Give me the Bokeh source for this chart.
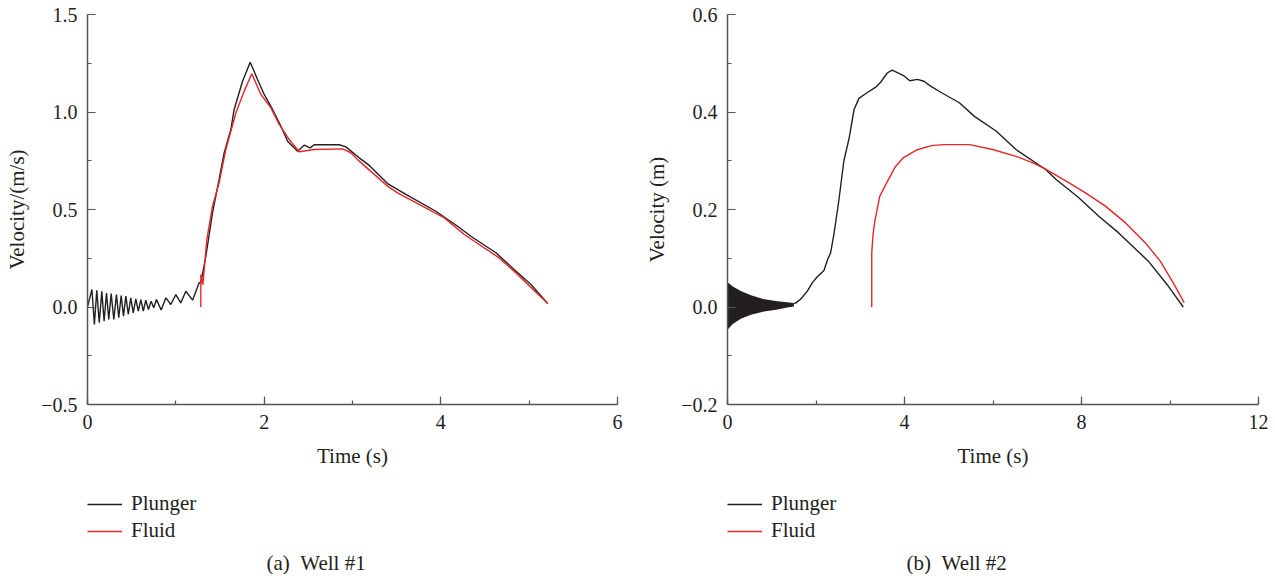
from bokeh.plotting import figure
from bokeh.layouts import row, column
from bokeh.models import (SingleIntervalTicker, CustomJSTickFormatter, Legend,
                          LegendItem, Title, Range1d)
from bokeh.embed import file_html
from bokeh.resources import INLINE

FONT = "Liberation Serif"
BLACK = "#231f20"
RED = "#e5262b"
AXIS = "#555555"
TEXT = "#231f20"
NAN = float("nan")

# ---------------- Well #1 ----------------
w1_plunger_t = [0.0, 0.05, 0.078, 0.105, 0.133, 0.162, 0.188, 0.215, 0.241, 0.268, 0.298,
                0.328, 0.354, 0.381, 0.407, 0.434, 0.462, 0.49, 0.518, 0.547, 0.575,
                0.604, 0.632, 0.66, 0.69, 0.72, 0.75, 0.781, 0.834, 0.887, 0.943, 1.0,
                1.056, 1.113, 1.19, 1.264, 1.283, 1.34, 1.415, 1.49, 1.547, 1.623,
                1.66, 1.755, 1.842, 1.925, 2.0, 2.095, 2.19, 2.265, 2.378, 2.453, 2.52,
                2.566, 2.85, 2.925, 3.076, 3.19, 3.397, 3.624, 3.944, 4.19, 4.34, 4.624,
                4.83, 5.02, 5.21]
w1_plunger_v = [0.0, 0.09, -0.09, 0.086, -0.081, 0.081, -0.073, 0.072, -0.064, 0.069, -0.064,
                0.064, -0.055, 0.059, -0.047, 0.056, -0.038, 0.047, -0.03, 0.042, -0.021,
                0.038, -0.021, 0.035, -0.013, 0.03, -0.004, 0.038, -0.015, 0.047, 0.013, 0.064,
                0.021, 0.081, 0.035, 0.124, 0.124, 0.26, 0.483, 0.654, 0.79, 0.91,
                1.013, 1.158, 1.255, 1.167, 1.09, 1.013, 0.927, 0.85, 0.799, 0.83, 0.816,
                0.832, 0.832, 0.821, 0.765, 0.726, 0.633, 0.572, 0.491, 0.414, 0.363, 0.278,
                0.192, 0.115, 0.018]

w1_fluid_t = [1.283, 1.283, 1.306, 1.351, 1.415, 1.49, 1.566, 1.68, 1.774, 1.86, 1.963,
              2.076, 2.17, 2.283, 2.397, 2.566, 2.888, 2.982, 3.076, 3.397, 3.51, 4.04,
              4.265, 4.66, 4.85, 5.21]
w1_fluid_v = [0.0, 0.167, 0.115, 0.346, 0.517, 0.637, 0.808, 0.996, 1.107, 1.196, 1.09,
              1.021, 0.936, 0.859, 0.796, 0.808, 0.811, 0.791, 0.748, 0.62, 0.585, 0.457,
              0.372, 0.252, 0.175, 0.018]

# ---------------- Well #2 ----------------
w2_osc_t = [0.0, 0.015, 0.12, 0.30, 0.53, 0.83, 1.13, 1.35, 1.50]
w2_osc_upper = [0.05, 0.05, 0.042, 0.033, 0.024, 0.016, 0.012, 0.010, 0.008]
w2_osc_lower = [-0.045, -0.045, -0.035, -0.024, -0.016, -0.009, -0.005, -0.001, 0.001]

w2_plunger_t = [1.50, 1.54, 1.65, 1.80, 1.92, 2.03, 2.18, 2.26, 2.33, 2.41, 2.52,
                2.63, 2.75, 2.86, 2.97, 3.16, 3.35, 3.46, 3.61, 3.72, 3.84, 3.99,
                4.12, 4.29, 4.44, 4.59, 4.81, 5.24, 5.58, 6.07, 6.52, 7.19, 7.42, 7.94,
                8.39, 8.84, 9.51, 9.96, 10.30]
w2_plunger_v = [0.008, 0.008, 0.016, 0.032, 0.050, 0.062, 0.075, 0.097, 0.111, 0.152,
                0.221, 0.300, 0.347, 0.405, 0.428, 0.440, 0.451, 0.461, 0.480,
                0.486, 0.481, 0.474, 0.464, 0.467, 0.463, 0.453, 0.441, 0.419,
                0.391, 0.361, 0.323, 0.282, 0.262, 0.224, 0.186, 0.152, 0.094, 0.043, 0.0]

w2_fluid_t = [3.26, 3.26, 3.29, 3.33, 3.44, 3.60, 3.78, 3.97, 4.27, 4.61, 4.87, 5.47, 5.99,
              6.52, 6.89, 7.19, 7.71, 8.09, 8.54, 8.99, 9.44, 9.78, 10.07, 10.32]
w2_fluid_v = [0.0, 0.111, 0.15, 0.176, 0.227, 0.255, 0.286, 0.306, 0.322, 0.331, 0.333,
              0.333, 0.323, 0.309, 0.296, 0.283, 0.255, 0.234, 0.207, 0.173, 0.132, 0.094,
              0.05, 0.009]

series_names = ["Plunger", "Fluid"]
series_colors = [BLACK, RED]


def style_axes(p, xint, yint, xlabel, ylabel):
    p.xaxis.ticker = SingleIntervalTicker(interval=xint, num_minor_ticks=2)
    p.yaxis.ticker = SingleIntervalTicker(interval=yint, num_minor_ticks=2)
    p.yaxis.formatter = CustomJSTickFormatter(
        code="return tick.toFixed(1).replace('-', '\\u2212');")
    p.xaxis.axis_label = xlabel
    p.yaxis.axis_label = ylabel
    for ax in (p.xaxis[0], p.yaxis[0]):
        ax.major_tick_in = 8
        ax.major_tick_out = 0
        ax.minor_tick_in = 4
        ax.minor_tick_out = 0
        ax.axis_line_color = AXIS
        ax.axis_line_width = 1.5
        ax.major_tick_line_color = AXIS
        ax.major_tick_line_width = 1.2
        ax.minor_tick_line_color = AXIS
        ax.minor_tick_line_width = 1.2
        ax.major_label_text_font = FONT
        ax.major_label_text_font_size = "20px"
        ax.major_label_text_color = TEXT
        ax.axis_label_text_font = FONT
        ax.axis_label_text_font_size = "21px"
        ax.axis_label_text_font_style = "normal"
        ax.axis_label_text_color = TEXT
    p.xaxis.major_label_standoff = 10
    p.xaxis.axis_label_standoff = 12
    p.yaxis.major_label_standoff = 10
    p.yaxis.axis_label_standoff = 9
    p.xgrid.visible = False
    p.ygrid.visible = False
    p.outline_line_color = None


def main_fig(width, xmax, ymin, ymax, left_border, right_border):
    return figure(width=width, height=474, x_range=Range1d(0, xmax),
                  y_range=Range1d(ymin, ymax), output_backend="svg",
                  toolbar_location=None, title_location=None,
                  min_border_left=left_border, min_border_right=right_border,
                  min_border_top=14, min_border_bottom=70, border_fill_color="white")


def legend_fig(width, left_border, caption):
    q = figure(width=width, height=100, x_range=Range1d(0, 1), y_range=Range1d(0, 1),
               output_backend="svg", toolbar_location=None, title_location=None,
               x_axis_location=None, y_axis_location=None,
               min_border_left=left_border, min_border_right=0, min_border_top=17,
               min_border_bottom=0, border_fill_color="white")
    q.outline_line_color = None
    q.grid.visible = False
    items = []
    for name, col in zip(series_names, series_colors):
        r = q.line(x=[NAN], y=[NAN], line_color=col, line_width=1.4)
        items.append(LegendItem(label=name, renderers=[r]))
    leg = Legend(items=items, location="top_left", orientation="vertical", margin=0,
                 padding=0, spacing=2, glyph_width=35, glyph_height=22, label_height=22,
                 label_standoff=9, label_text_font=FONT, label_text_font_size="21px",
                 label_text_color=TEXT, border_line_color=None, background_fill_alpha=0)
    q.add_layout(leg)
    cap = Title(text=caption, align="left", offset=179, text_font=FONT,
                text_font_size="21px", text_font_style="normal", text_color=TEXT,
                standoff=0)
    q.add_layout(cap, "below")
    return q


# ---- figure (a)
p1 = main_fig(642, 6, -0.5, 1.5, 87, 25)
style_axes(p1, 2, 0.5, "Time (s)", "Velocity/(m/s)")
p1.line(w1_plunger_t, w1_plunger_v, line_color=BLACK, line_width=1.4)
p1.line(w1_fluid_t, w1_fluid_v, line_color=RED, line_width=1.4)
l1 = legend_fig(642, 87, "(a)\u00a0\u00a0Well #1")

# ---- figure (b)
p2 = main_fig(628, 12, -0.2, 0.6000001, 85, 12)
style_axes(p2, 4, 0.2, "Time (s)", "Velocity (m)")
p2.varea(x=w2_osc_t, y1=w2_osc_lower, y2=w2_osc_upper, fill_color=BLACK)
p2.line(w2_plunger_t, w2_plunger_v, line_color=BLACK, line_width=1.4)
p2.line(w2_fluid_t, w2_fluid_v, line_color=RED, line_width=1.4)
l2 = legend_fig(628, 85, "(b)\u00a0\u00a0Well #2")

layout = row(column(p1, l1), column(p2, l2))
open("out.html", "w").write(file_html(layout, INLINE))
